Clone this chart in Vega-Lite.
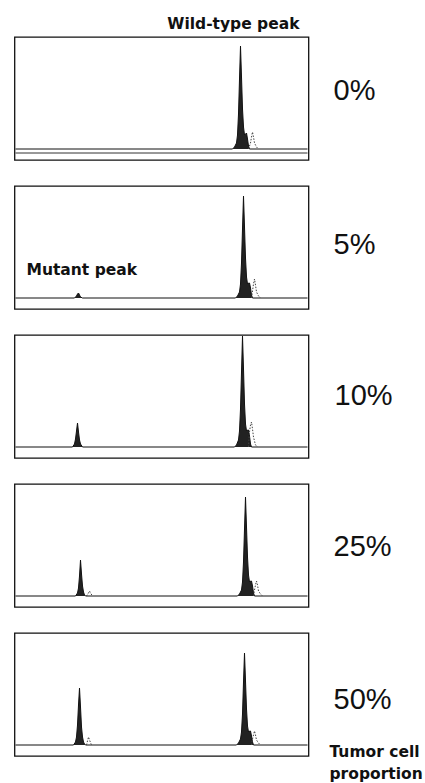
{
  "$schema": "https://vega.github.io/schema/vega-lite/v6.json",
  "background": "white",
  "padding": {"left": 12.5, "top": 16, "right": 0, "bottom": 0},
  "config": {"view": {"stroke": "#111", "strokeWidth": 1.3}, "font": "Liberation Sans"},
  "data": {"values": [
    {"p":1,"k":"t","x":1,"y":0},{"p":1,"k":"t","x":218,"y":0},{"p":1,"k":"t","x":220,"y":2},{"p":1,"k":"t","x":222,"y":6},{"p":1,"k":"t","x":223,"y":14},{"p":1,"k":"t","x":224,"y":35},{"p":1,"k":"t","x":225,"y":70},{"p":1,"k":"t","x":226,"y":103},{"p":1,"k":"t","x":227,"y":72},{"p":1,"k":"t","x":228,"y":40},{"p":1,"k":"t","x":229,"y":22},{"p":1,"k":"t","x":230,"y":14},{"p":1,"k":"t","x":231,"y":15},{"p":1,"k":"t","x":232,"y":16},{"p":1,"k":"t","x":233,"y":10},{"p":1,"k":"t","x":234,"y":3},{"p":1,"k":"t","x":235,"y":0},{"p":1,"k":"t","x":293,"y":0},
    {"p":1,"k":"s1","x":234,"y":0},{"p":1,"k":"s1","x":236,"y":6},{"p":1,"k":"s1","x":237,"y":12},{"p":1,"k":"s1","x":238,"y":17},{"p":1,"k":"s1","x":239,"y":12},{"p":1,"k":"s1","x":240,"y":6},{"p":1,"k":"s1","x":242,"y":2},{"p":1,"k":"s1","x":244,"y":0},
    {"p":1,"k":"b","x":1,"y":-4},{"p":1,"k":"b","x":293,"y":-4},

    {"p":2,"k":"t","x":1,"y":0},{"p":2,"k":"t","x":60,"y":0},{"p":2,"k":"t","x":62,"y":2},{"p":2,"k":"t","x":63,"y":4},{"p":2,"k":"t","x":64,"y":5},{"p":2,"k":"t","x":65,"y":3},{"p":2,"k":"t","x":66,"y":1},{"p":2,"k":"t","x":68,"y":0},{"p":2,"k":"t","x":221,"y":0},{"p":2,"k":"t","x":223,"y":2},{"p":2,"k":"t","x":225,"y":6},{"p":2,"k":"t","x":226,"y":14},{"p":2,"k":"t","x":227,"y":35},{"p":2,"k":"t","x":228,"y":69},{"p":2,"k":"t","x":229,"y":102},{"p":2,"k":"t","x":230,"y":71},{"p":2,"k":"t","x":231,"y":40},{"p":2,"k":"t","x":232,"y":21},{"p":2,"k":"t","x":233,"y":14},{"p":2,"k":"t","x":234,"y":15},{"p":2,"k":"t","x":235,"y":15},{"p":2,"k":"t","x":236,"y":10},{"p":2,"k":"t","x":237,"y":3},{"p":2,"k":"t","x":238,"y":0},{"p":2,"k":"t","x":293,"y":0},
    {"p":2,"k":"s1","x":237,"y":0},{"p":2,"k":"s1","x":238,"y":7},{"p":2,"k":"s1","x":239,"y":14},{"p":2,"k":"s1","x":240,"y":19},{"p":2,"k":"s1","x":241,"y":13},{"p":2,"k":"s1","x":242,"y":6},{"p":2,"k":"s1","x":244,"y":2},{"p":2,"k":"s1","x":246,"y":0},

    {"p":3,"k":"t","x":1,"y":0},{"p":3,"k":"t","x":58,"y":0},{"p":3,"k":"t","x":60,"y":3},{"p":3,"k":"t","x":61,"y":8},{"p":3,"k":"t","x":62,"y":16},{"p":3,"k":"t","x":63,"y":24},{"p":3,"k":"t","x":64,"y":15},{"p":3,"k":"t","x":65,"y":7},{"p":3,"k":"t","x":66,"y":3},{"p":3,"k":"t","x":68,"y":0},{"p":3,"k":"t","x":220,"y":0},{"p":3,"k":"t","x":222,"y":2},{"p":3,"k":"t","x":224,"y":7},{"p":3,"k":"t","x":225,"y":16},{"p":3,"k":"t","x":226,"y":38},{"p":3,"k":"t","x":227,"y":75},{"p":3,"k":"t","x":228,"y":111},{"p":3,"k":"t","x":229,"y":78},{"p":3,"k":"t","x":230,"y":43},{"p":3,"k":"t","x":231,"y":23},{"p":3,"k":"t","x":232,"y":16},{"p":3,"k":"t","x":233,"y":17},{"p":3,"k":"t","x":234,"y":17},{"p":3,"k":"t","x":235,"y":11},{"p":3,"k":"t","x":236,"y":3},{"p":3,"k":"t","x":237,"y":0},{"p":3,"k":"t","x":293,"y":0},
    {"p":3,"k":"s1","x":234,"y":0},{"p":3,"k":"s1","x":235,"y":15},{"p":3,"k":"s1","x":236,"y":22},{"p":3,"k":"s1","x":237,"y":25},{"p":3,"k":"s1","x":238,"y":18},{"p":3,"k":"s1","x":239,"y":10},{"p":3,"k":"s1","x":240,"y":6},{"p":3,"k":"s1","x":241,"y":2},{"p":3,"k":"s1","x":243,"y":0},

    {"p":4,"k":"t","x":1,"y":0},{"p":4,"k":"t","x":61,"y":0},{"p":4,"k":"t","x":63,"y":3},{"p":4,"k":"t","x":64,"y":8},{"p":4,"k":"t","x":65,"y":20},{"p":4,"k":"t","x":66,"y":36},{"p":4,"k":"t","x":67,"y":22},{"p":4,"k":"t","x":68,"y":10},{"p":4,"k":"t","x":69,"y":4},{"p":4,"k":"t","x":70,"y":1},{"p":4,"k":"t","x":71,"y":0},{"p":4,"k":"t","x":223,"y":0},{"p":4,"k":"t","x":225,"y":2},{"p":4,"k":"t","x":227,"y":6},{"p":4,"k":"t","x":228,"y":14},{"p":4,"k":"t","x":229,"y":34},{"p":4,"k":"t","x":230,"y":67},{"p":4,"k":"t","x":231,"y":99},{"p":4,"k":"t","x":232,"y":69},{"p":4,"k":"t","x":233,"y":39},{"p":4,"k":"t","x":234,"y":21},{"p":4,"k":"t","x":235,"y":14},{"p":4,"k":"t","x":236,"y":15},{"p":4,"k":"t","x":237,"y":15},{"p":4,"k":"t","x":238,"y":10},{"p":4,"k":"t","x":239,"y":3},{"p":4,"k":"t","x":240,"y":0},{"p":4,"k":"t","x":293,"y":0},
    {"p":4,"k":"s1","x":239,"y":0},{"p":4,"k":"s1","x":240,"y":6},{"p":4,"k":"s1","x":241,"y":11},{"p":4,"k":"s1","x":242,"y":15},{"p":4,"k":"s1","x":243,"y":11},{"p":4,"k":"s1","x":244,"y":5},{"p":4,"k":"s1","x":246,"y":2},{"p":4,"k":"s1","x":248,"y":0},
    {"p":4,"k":"s2","x":72,"y":0},{"p":4,"k":"s2","x":74,"y":3},{"p":4,"k":"s2","x":75,"y":5},{"p":4,"k":"s2","x":76,"y":3},{"p":4,"k":"s2","x":78,"y":0},

    {"p":5,"k":"t","x":1,"y":0},{"p":5,"k":"t","x":59,"y":0},{"p":5,"k":"t","x":61,"y":3},{"p":5,"k":"t","x":62,"y":8},{"p":5,"k":"t","x":63,"y":20},{"p":5,"k":"t","x":64,"y":40},{"p":5,"k":"t","x":65,"y":57},{"p":5,"k":"t","x":66,"y":38},{"p":5,"k":"t","x":67,"y":18},{"p":5,"k":"t","x":68,"y":8},{"p":5,"k":"t","x":69,"y":3},{"p":5,"k":"t","x":70,"y":1},{"p":5,"k":"t","x":71,"y":0},{"p":5,"k":"t","x":222,"y":0},{"p":5,"k":"t","x":224,"y":2},{"p":5,"k":"t","x":226,"y":6},{"p":5,"k":"t","x":227,"y":13},{"p":5,"k":"t","x":228,"y":31},{"p":5,"k":"t","x":229,"y":63},{"p":5,"k":"t","x":230,"y":92},{"p":5,"k":"t","x":231,"y":64},{"p":5,"k":"t","x":232,"y":36},{"p":5,"k":"t","x":233,"y":19},{"p":5,"k":"t","x":234,"y":13},{"p":5,"k":"t","x":235,"y":14},{"p":5,"k":"t","x":236,"y":14},{"p":5,"k":"t","x":237,"y":9},{"p":5,"k":"t","x":238,"y":3},{"p":5,"k":"t","x":239,"y":0},{"p":5,"k":"t","x":293,"y":0},
    {"p":5,"k":"s1","x":237,"y":0},{"p":5,"k":"s1","x":238,"y":6},{"p":5,"k":"s1","x":239,"y":10},{"p":5,"k":"s1","x":240,"y":14},{"p":5,"k":"s1","x":241,"y":10},{"p":5,"k":"s1","x":242,"y":5},{"p":5,"k":"s1","x":244,"y":2},{"p":5,"k":"s1","x":246,"y":0},
    {"p":5,"k":"s2","x":72,"y":0},{"p":5,"k":"s2","x":73,"y":4},{"p":5,"k":"s2","x":74,"y":8},{"p":5,"k":"s2","x":75,"y":5},{"p":5,"k":"s2","x":77,"y":0},

    {"p":1,"k":"pct","x":319,"y":58,"text":"0%"},
    {"p":2,"k":"pct","x":319,"y":53,"text":"5%"},
    {"p":3,"k":"pct","x":320,"y":51,"text":"10%"},
    {"p":4,"k":"pct","x":319,"y":49,"text":"25%"},
    {"p":5,"k":"pct","x":319,"y":45,"text":"50%"},
    {"p":1,"k":"noteR","x":285,"y":125,"text":"Wild-type peak"},
    {"p":2,"k":"noteL","x":12,"y":28,"text":"Mutant peak"},
    {"p":5,"k":"noteL","x":315,"y":-7,"text":"Tumor cell"},
    {"p":5,"k":"noteL","x":315,"y":-29,"text":"proportion"}
  ]},
  "facet": {"row": {"field": "p", "type": "ordinal", "header": null}},
  "spacing": 26,
  "bounds": "flush",
  "spec": {
    "width": 294,
    "height": 123,
    "encoding": {
      "x": {"field": "x", "type": "quantitative", "scale": {"domain": [0, 294], "nice": false, "zero": false}, "axis": null},
      "y": {"field": "y", "type": "quantitative", "scale": {"domain": [-11, 112], "nice": false, "zero": false}, "axis": null, "stack": null}
    },
    "layer": [
      {
        "transform": [{"filter": "datum.k === 't'"}],
        "mark": {"type": "area", "fill": "#222", "interpolate": "linear"},
        "encoding": {"y2": {"datum": 0}}
      },
      {
        "transform": [{"filter": "datum.k === 't'"}],
        "mark": {"type": "line", "stroke": "#111", "strokeWidth": 1},
        "encoding": {}
      },
      {
        "transform": [{"filter": "datum.k === 'b'"}],
        "mark": {"type": "line", "stroke": "#333", "strokeWidth": 1},
        "encoding": {}
      },
      {
        "transform": [{"filter": "datum.k === 's1' || datum.k === 's2'"}],
        "mark": {"type": "line", "stroke": "#444", "strokeWidth": 1, "strokeDash": [1.5, 1.5]},
        "encoding": {"detail": {"field": "k"}}
      },
      {
        "transform": [{"filter": "datum.k === 'pct'"}],
        "mark": {"type": "text", "align": "left", "baseline": "middle", "font": "Liberation Sans", "fontSize": 29, "color": "#111"},
        "encoding": {"text": {"field": "text"}}
      },
      {
        "transform": [{"filter": "datum.k === 'noteL'"}],
        "mark": {"type": "text", "align": "left", "baseline": "middle", "font": "DejaVu Sans", "fontWeight": "bold", "fontSize": 15.5, "color": "#111"},
        "encoding": {"text": {"field": "text"}}
      },
      {
        "transform": [{"filter": "datum.k === 'noteR'"}],
        "mark": {"type": "text", "align": "right", "baseline": "middle", "font": "DejaVu Sans", "fontWeight": "bold", "fontSize": 15.5, "color": "#111"},
        "encoding": {"text": {"field": "text"}}
      }
    ]
  }
}
